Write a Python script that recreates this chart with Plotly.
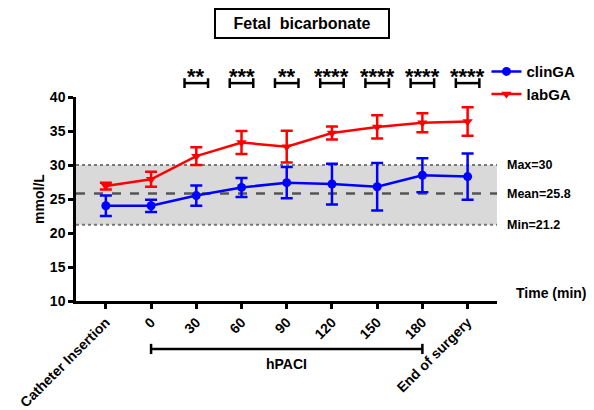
import plotly.graph_objects as go

categories = ["Catheter Insertion", "0", "30", "60", "90", "120", "150", "180", "End of surgery"]
clin_mean = [24.0, 24.0, 25.5, 26.7, 27.4, 27.2, 26.8, 28.5, 28.3]
clin_sd = [1.5, 0.9, 1.5, 1.4, 2.3, 3.0, 3.5, 2.5, 3.4]
lab_mean = [26.9, 27.9, 31.3, 33.3, 32.7, 34.7, 35.6, 36.2, 36.4]
lab_sd = [0.5, 1.1, 1.3, 1.7, 2.35, 0.95, 1.7, 1.4, 2.1]
sig_idx = [2, 3, 4, 5, 6, 7, 8]
sig_stars = ["**", "***", "**", "****", "****", "****", "****"]
ref_max, ref_mean, ref_min = 30.0, 25.8, 21.2
hpaci_start, hpaci_end = 1, 7

xs = list(range(len(categories)))
FONT = "Liberation Sans, Arial, sans-serif"
AX_W = 2.5

fig = go.Figure()

fig.add_trace(go.Scatter(
    x=xs, y=clin_mean, name="clinGA", mode="lines+markers",
    line=dict(color="#0000ff", width=2.5),
    marker=dict(symbol="circle", size=9, color="#0000ff"),
    error_y=dict(type="data", array=clin_sd, visible=True, color="#0000ff", thickness=2.5, width=6),
    cliponaxis=False,
))
fig.add_trace(go.Scatter(
    x=xs, y=lab_mean, name="labGA", mode="lines+markers",
    line=dict(color="#ff0000", width=2.5),
    marker=dict(symbol="triangle-down", size=9, color="#ff0000"),
    error_y=dict(type="data", array=lab_sd, visible=True, color="#ff0000", thickness=2.5, width=6),
    cliponaxis=False,
))

# reference band and lines
fig.add_shape(type="rect", xref="paper", yref="y", x0=0, x1=1, y0=ref_min, y1=ref_max,
              fillcolor="#d9d9d9", line=dict(width=0), layer="below")
for v in (ref_max, ref_min):
    fig.add_shape(type="line", xref="paper", yref="y", x0=0, x1=1, y0=v, y1=v,
                  line=dict(color="#777777", width=2, dash="dot"), layer="below")
fig.add_shape(type="line", xref="paper", yref="y", x0=0, x1=1, y0=ref_mean, y1=ref_mean,
              line=dict(color="#555555", width=2.5, dash="dash"), layer="below")

lab_font = dict(family=FONT, size=12.5, color="black", weight="bold")
fig.add_annotation(xref="paper", yref="y", x=1.02, y=ref_max, text=f"Max={ref_max:g}",
                   showarrow=False, xanchor="left", font=lab_font)
fig.add_annotation(xref="paper", yref="y", x=1.02, y=ref_mean, text=f"Mean={ref_mean:g}",
                   showarrow=False, xanchor="left", font=lab_font)
fig.add_annotation(xref="paper", yref="y", x=1.02, y=ref_min, text=f"Min={ref_min:g}",
                   showarrow=False, xanchor="left", font=lab_font)

# significance brackets
by, bh, bw = 1.068, 0.024, 0.26
for i, s in zip(sig_idx, sig_stars):
    fig.add_shape(type="line", xref="x", yref="paper", x0=i - bw, x1=i + bw, y0=by, y1=by,
                  line=dict(color="black", width=2.5))
    for xe in (i - bw, i + bw):
        fig.add_shape(type="line", xref="x", yref="paper", x0=xe, x1=xe, y0=by - bh, y1=by + bh,
                      line=dict(color="black", width=2.5))
    fig.add_annotation(xref="x", yref="paper", x=i, y=1.1, text=s, showarrow=False,
                       yanchor="middle", font=dict(family=FONT, size=22, color="black", weight="bold"))

# hPACI bracket
hy, hh = -0.235, 0.025
fig.add_shape(type="line", xref="x", yref="paper", x0=hpaci_start, x1=hpaci_end, y0=hy, y1=hy,
              line=dict(color="black", width=2.5))
for xe in (hpaci_start, hpaci_end):
    fig.add_shape(type="line", xref="x", yref="paper", x0=xe, x1=xe, y0=hy - hh, y1=hy + hh,
                  line=dict(color="black", width=2.5))
fig.add_annotation(xref="x", yref="paper", x=(hpaci_start + hpaci_end) / 2, y=hy - 0.075,
                   text="hPACI", showarrow=False, yanchor="middle",
                   font=dict(family=FONT, size=14, color="black", weight="bold"))

# x axis title
fig.add_annotation(xref="paper", yref="paper", x=1.04, y=-0.01, text="Time (min)", showarrow=False,
                   xanchor="left", font=dict(family=FONT, size=14, color="black", weight="bold"))

# title box
fig.add_annotation(xref="paper", yref="paper", x=0.537, y=1.358, text="Fetal\u00a0 bicarbonate",
                   showarrow=False, xanchor="center", yanchor="middle",
                   width=170, height=25, borderpad=1, bordercolor="black", borderwidth=2,
                   font=dict(family=FONT, size=16, color="black", weight="bold"))

tick_font = dict(family=FONT, size=14, color="black", weight="bold")
fig.update_xaxes(range=[-0.66, 8.65], tickvals=xs, ticktext=categories, tickangle=-45,
                 showline=True, linecolor="black", linewidth=AX_W, ticks="outside",
                 ticklen=5, tickwidth=AX_W, tickcolor="black", showgrid=False, zeroline=False,
                 tickfont=tick_font, automargin=False)
fig.update_yaxes(range=[10, 40], tickvals=[10, 15, 20, 25, 30, 35, 40],
                 showline=True, linecolor="black", linewidth=AX_W, ticks="outside",
                 ticklen=5, tickwidth=AX_W, tickcolor="black", showgrid=False, zeroline=False,
                 tickfont=tick_font, automargin=False,
                 title=dict(text="mmol/L", font=dict(family=FONT, size=14, color="black", weight="bold"),
                            standoff=2))

fig.update_layout(
    width=594, height=410,
    margin=dict(l=76, r=97, t=97, b=109, autoexpand=False),
    plot_bgcolor="white", paper_bgcolor="white",
    showlegend=True,
    legend=dict(x=0.975, y=1.205, xanchor="left", yanchor="top",
                font=dict(family=FONT, size=15, color="black", weight="bold"),
                bgcolor="rgba(0,0,0,0)", tracegroupgap=0, itemwidth=30),
    font=dict(family=FONT),
)

fig.write_html("out.html")
